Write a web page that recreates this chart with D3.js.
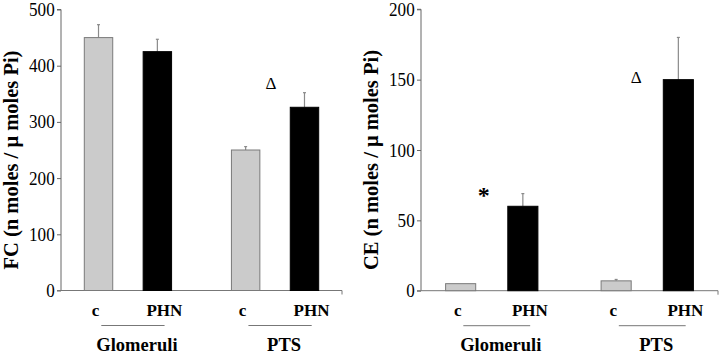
<!DOCTYPE html>
<html>
<head>
<meta charset="utf-8">
<script src="https://cdn.jsdelivr.net/npm/d3@7"></script>
<style>
  html, body { margin: 0; padding: 0; background: #fff; }
  svg { display: block; }
</style>
</head>
<body>
<svg id="chart" width="720" height="356"></svg>
<script>
// ---- data ----
const groups = ["Glomeruli", "PTS"];
const conditions = ["c", "PHN"];

const fcMeans = [[450, 425], [250, 326]];   // [group][condition]
const fcErrors = [[23, 22], [6, 26]];
const fcTicks = [0, 100, 200, 300, 400, 500];
const fcTitle = "FC (n moles / \u03bc moles Pi)";
const fcMarks = [{ group: "PTS", value: 370, symbol: "\u0394" }];

const ceMeans = [[5, 60], [7, 150]];
const ceErrors = [[0, 9], [1, 30]];
const ceTicks = [0, 50, 100, 150, 200];
const ceTitle = "CE (n moles / \u03bc moles Pi)";
const ceMarks = [
  { group: "Glomeruli", value: 69, symbol: "*" },
  { group: "PTS", value: 152, symbol: "\u0394" }
];

// ---- drawing ----
const svg = d3.select("#chart");
const fills = { c: "#cbcbcb", PHN: "#000" };
const strokes = { c: "#7a7a7a", PHN: "#000" };
function font(size, weight) {
  return `font-family:'Liberation Serif';font-size:${size}px;font-weight:${weight || "normal"}`;
}

function panel(cfg) {
  const { x0, x1, yTop, yBot, means, errors, ticks, title, marks, markDx } = cfg;
  const g = svg.append("g");
  const y = d3.scaleLinear().domain([0, d3.max(ticks)]).range([yBot, yTop]);
  const gx = d3.scalePoint().domain(groups).range([x0, x1]).padding(0.455);
  const step = gx.step();
  const inner = d3.scaleBand().domain(conditions)
    .range([-0.4 * step, 0.4 * step]).paddingInner(0.5).paddingOuter(0.25);

  // y axis
  const ya = g.append("g").attr("transform", `translate(${x0},0)`)
    .call(d3.axisLeft(y).tickValues(ticks).tickSize(4).tickPadding(3).tickFormat(d3.format("d")));
  ya.select(".domain").attr("stroke", "#666").attr("d", `M-4,${yTop}H0V${yBot}`);
  ya.selectAll(".tick line").attr("stroke", "#666");
  ya.selectAll(".tick text").attr("style", font(19)).attr("fill", "#000")
    .attr("transform", "scale(0.9,1)");

  // x baseline
  g.append("path").attr("fill", "none").attr("stroke", "#777")
    .attr("d", `M${x0 - 4},${yBot}H${x1}V${yBot + 4}`);

  // bars
  const data = [];
  groups.forEach((grp, gi) => conditions.forEach((c, ci) => {
    data.push({ grp, c, v: means[gi][ci], e: errors[gi][ci] });
  }));
  const bx = d => gx(d.grp) + inner(d.c);
  const bw = inner.bandwidth();

  // error bars
  const eb = g.selectAll(".err").data(data.filter(d => d.e > 0)).join("g");
  eb.append("line")
    .attr("x1", d => bx(d) + bw / 2).attr("x2", d => bx(d) + bw / 2)
    .attr("y1", d => y(d.v)).attr("y2", d => y(d.v + d.e))
    .attr("stroke", "#8a8a8a").attr("stroke-width", 1.2);
  eb.append("line")
    .attr("x1", d => bx(d) + bw / 2 - 1.5).attr("x2", d => bx(d) + bw / 2 + 1.5)
    .attr("y1", d => y(d.v + d.e)).attr("y2", d => y(d.v + d.e))
    .attr("stroke", "#8a8a8a").attr("stroke-width", 1.2);

  g.selectAll(".bar").data(data).join("rect")
    .attr("x", d => bx(d) + 0.5).attr("width", bw - 1)
    .attr("y", d => y(d.v)).attr("height", d => y(0) - y(d.v))
    .attr("fill", d => fills[d.c]).attr("stroke", d => strokes[d.c]).attr("stroke-width", 1);

  // category labels
  const labOff = { c: -3, PHN: 7 };
  g.selectAll(".cat").data(data).join("text")
    .attr("x", d => bx(d) + bw / 2 + labOff[d.c]).attr("y", yBot + 25)
    .attr("text-anchor", "middle").attr("style", font(17, "bold"))
    .text(d => d.c);

  // group underline and labels
  g.selectAll(".ul").data(groups).join("line")
    .attr("x1", d => gx(d) + 5 - 0.215 * step).attr("x2", d => gx(d) + 5 + 0.215 * step)
    .attr("y1", yBot + 35).attr("y2", yBot + 35)
    .attr("stroke", "#777").attr("stroke-width", 1);
  g.selectAll(".grp").data(groups).join("text")
    .attr("x", d => gx(d) + 9).attr("y", yBot + 60)
    .attr("text-anchor", "middle").attr("style", font(18.5, "bold"))
    .text(d => d);

  // significance marks
  g.selectAll(".mark").data(marks).join("text")
    .attr("x", d => gx(d.group) + markDx[d.symbol]).attr("y", d => y(d.value) + 6)
    .attr("text-anchor", "middle")
    .attr("style", d => d.symbol === "*" ? font(24, "bold") : font(17))
    .attr("dy", d => d.symbol === "*" ? "0.15em" : 0)
    .text(d => d.symbol);

  // y title
  g.append("text")
    .attr("transform", `translate(${x0 - 43},${(yTop + yBot) / 2 + 10}) rotate(-90)`)
    .attr("text-anchor", "middle").attr("style", font(20.5, "bold"))
    .text(title);
}

panel({ x0: 61, x1: 342, yTop: 9.5, yBot: 290.5, means: fcMeans, errors: fcErrors,
  ticks: fcTicks, title: fcTitle, marks: fcMarks, markDx: { "\u0394": -4, "*": -8 } });
panel({ x0: 421, x1: 718, yTop: 9.3, yBot: 290.7, means: ceMeans, errors: ceErrors,
  ticks: ceTicks, title: ceTitle, marks: ceMarks, markDx: { "\u0394": -11, "*": -8 } });
</script>
</body>
</html>
